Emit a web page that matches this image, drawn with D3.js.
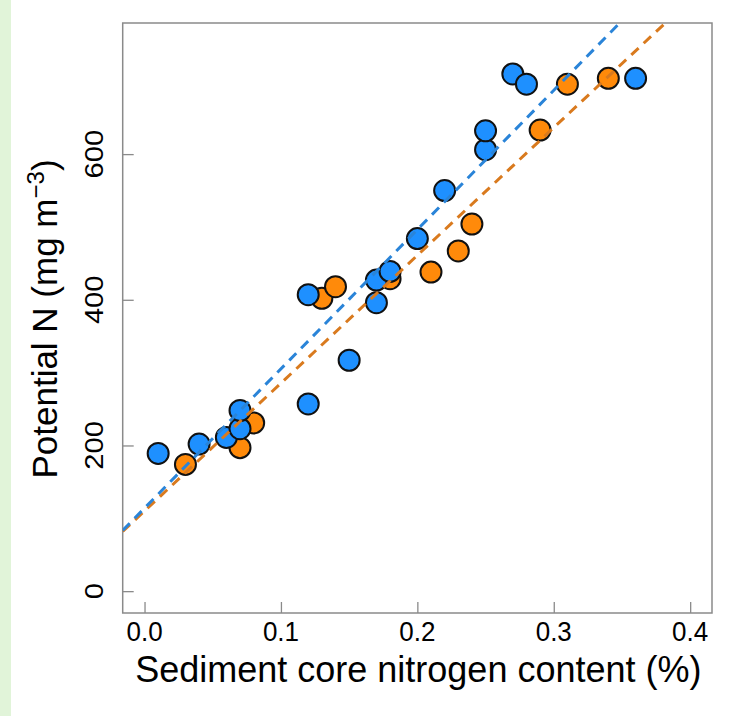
<!DOCTYPE html>
<html>
<head>
<meta charset="utf-8">
<script src="https://cdn.jsdelivr.net/npm/d3@7"></script>
<style>
  html, body { margin: 0; padding: 0; background: #ffffff; }
  svg { display: block; }
  text { font-family: "Liberation Sans", Arial, Helvetica, sans-serif; fill: #000; }
</style>
</head>
<body>
<script>
// ---- data ----
const blueX = [0.01, 0.04, 0.06, 0.07, 0.07, 0.12, 0.12, 0.15, 0.17, 0.17, 0.18, 0.20, 0.22, 0.25, 0.25, 0.27, 0.28, 0.36];
const blueY = [189, 202, 211, 223, 248, 257, 407, 317, 427, 396, 439, 484, 550, 606, 632, 710, 696, 704];
const orangeX = [0.03, 0.07, 0.08, 0.13, 0.14, 0.18, 0.21, 0.23, 0.24, 0.29, 0.31, 0.34];
const orangeY = [174, 197, 231, 402, 418, 429, 438, 467, 504, 633, 696, 704];
// fitted dashed lines: [intercept, slope]
const blueFit = [114, 1912];
const orangeFit = [110, 1755];
const xTicks = [0, 0.1, 0.2, 0.3, 0.4];
const xTickLabels = ["0.0", "0.1", "0.2", "0.3", "0.4"];
const yTicks = [0, 200, 400, 600];
const xTitle = "Sediment core nitrogen content (%)";
const yTitleMain = "Potential N (mg m";
const yTitleSup = "\u22123";
const yTitleEnd = ")";

const W = 739, H = 716;
const svg = d3.select("body").append("svg").attr("width", W).attr("height", H);
svg.append("rect").attr("width", W).attr("height", H).attr("fill", "#ffffff");
svg.append("rect").attr("x", 0).attr("y", 0).attr("width", 11).attr("height", H).attr("fill", "#e1f4d9");

const box = {l: 122.7, r: 712, t: 23, b: 613};
const x = d3.scaleLinear().domain([-0.016, 0.416]).range([box.l, box.r]);
const y = d3.scaleLinear().domain([-30, 780]).range([box.b, box.t]);

const defs = svg.append("defs");
defs.append("clipPath").attr("id", "plotclip").append("rect")
  .attr("x", box.l).attr("y", box.t).attr("width", box.r - box.l).attr("height", box.b - box.t);

// ticks (inward)
const axisColor = "#8a8a8a";
const xAxis = d3.axisBottom(x).tickValues(xTicks).tickSize(-11).tickFormat("");
const gx = svg.append("g").attr("transform", `translate(0,${box.b})`).call(xAxis);
gx.select(".domain").remove();
gx.selectAll("line").attr("stroke", axisColor).attr("stroke-width", 1.3);

const yAxis = d3.axisLeft(y).tickValues(yTicks).tickSize(-11).tickFormat("");
const gy = svg.append("g").attr("transform", `translate(${box.l},0)`).call(yAxis);
gy.select(".domain").remove();
gy.selectAll("line").attr("stroke", axisColor).attr("stroke-width", 1.3);

// box
svg.append("rect").attr("x", box.l).attr("y", box.t)
  .attr("width", box.r - box.l).attr("height", box.b - box.t)
  .attr("fill", "none").attr("stroke", axisColor).attr("stroke-width", 1.5);

// x tick labels
svg.append("g").selectAll("text").data(xTicks).join("text")
  .attr("transform", d => `translate(${x(d)},641) scale(1,1.08)`)
  .attr("text-anchor", "middle").attr("font-size", 26)
  .text((d, i) => xTickLabels[i]);

// y tick labels (rotated)
svg.append("g").selectAll("text").data(yTicks).join("text")
  .attr("transform", d => `translate(102.5,${y(d)}) rotate(-90) scale(1.12,1)`)
  .attr("text-anchor", "middle").attr("font-size", 26)
  .text(d => d3.format("d")(d));

// axis titles
svg.append("text").attr("x", (box.l + box.r) / 2 + 1).attr("y", 682)
  .attr("text-anchor", "middle").attr("font-size", 36).text(xTitle);

const yt = svg.append("text")
  .attr("transform", `translate(57,319) rotate(-90)`)
  .attr("text-anchor", "middle").attr("font-size", 35);
yt.append("tspan").text(yTitleMain);
yt.append("tspan").attr("font-size", 24).attr("dy", -13).text(yTitleSup);
yt.append("tspan").attr("dy", 13).text(yTitleEnd);

// points
const plot = svg.append("g");
const orangeData = orangeX.map((v, i) => ({x: v, y: orangeY[i]}));
const blueData = blueX.map((v, i) => ({x: v, y: blueY[i]}));
plot.append("g").selectAll("circle").data(orangeData).join("circle")
  .attr("cx", d => x(d.x)).attr("cy", d => y(d.y)).attr("r", 10.5)
  .attr("fill", "#ff8a0a").attr("stroke", "#111").attr("stroke-width", 2);
plot.append("g").selectAll("circle").data(blueData).join("circle")
  .attr("cx", d => x(d.x)).attr("cy", d => y(d.y)).attr("r", 10.5)
  .attr("fill", "#1e90ff").attr("stroke", "#111").attr("stroke-width", 2);

// dashed fit lines
const lines = svg.append("g").attr("clip-path", "url(#plotclip)");
const xd = x.domain();
function fitLine(fit, color) {
  const pts = xd.map(v => [v, fit[0] + fit[1] * v]);
  lines.append("path")
    .attr("d", d3.line().x(p => x(p[0])).y(p => y(p[1]))(pts))
    .attr("fill", "none").attr("stroke", color).attr("stroke-width", 3)
    .attr("stroke-dasharray", "10,7");
}
fitLine(orangeFit, "#d97a1e");
fitLine(blueFit, "#2a84d8");
</script>
</body>
</html>
